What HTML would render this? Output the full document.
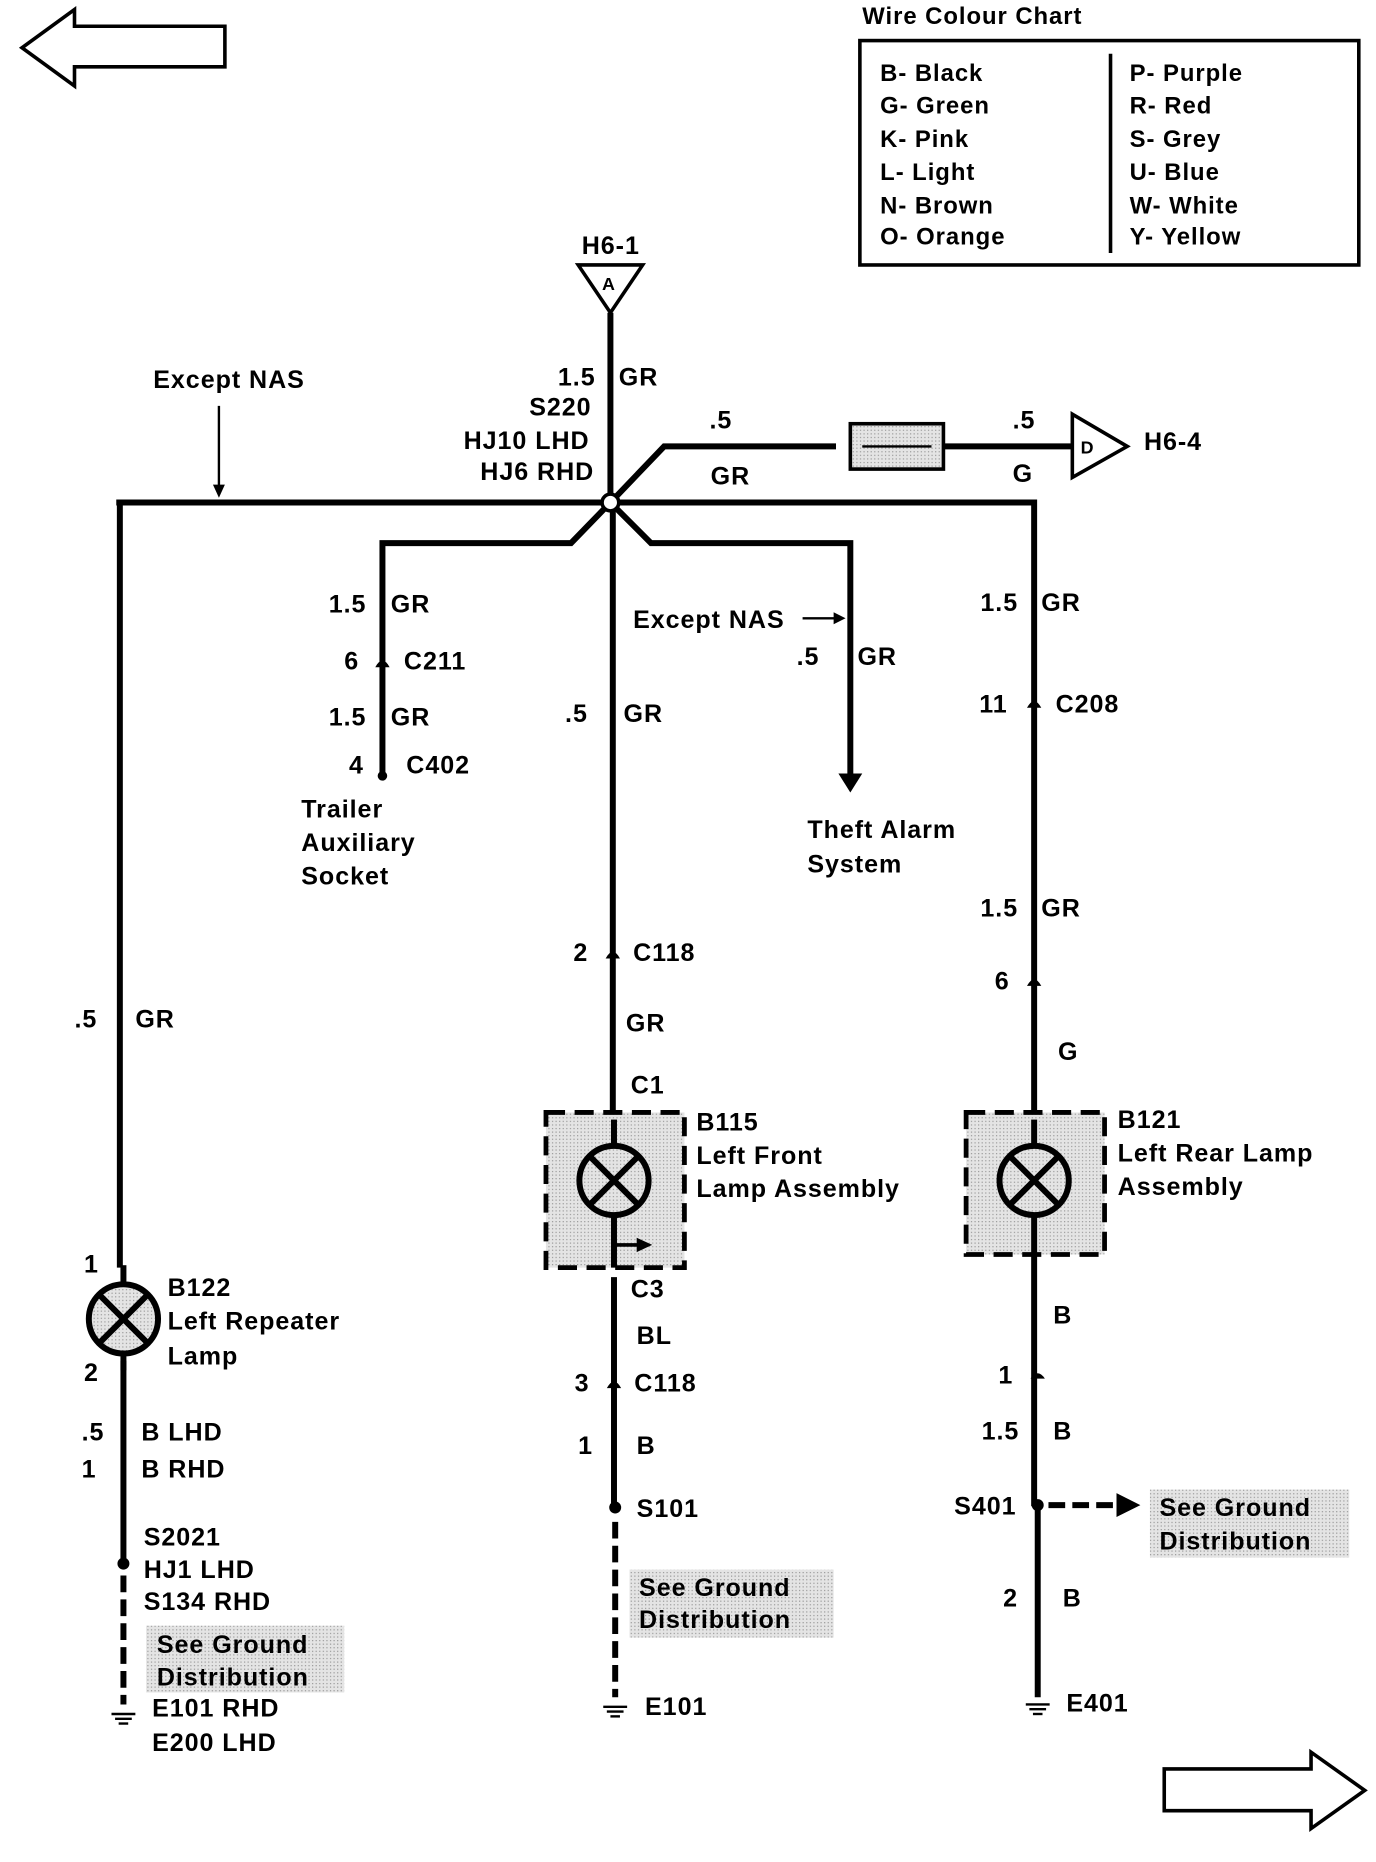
<!DOCTYPE html>
<html><head><meta charset="utf-8"><style>
html,body{margin:0;padding:0;background:#fff;}
svg{display:block;}
text{font-family:"Liberation Sans",sans-serif;font-weight:bold;font-size:21px;letter-spacing:0.8px;fill:#000;}
.ch{font-size:20px;}
</style></head><body>
<svg width="1376" height="1862" viewBox="0 0 1152 1560" xmlns="http://www.w3.org/2000/svg">
<defs>
<pattern id="dot" width="3" height="3" patternUnits="userSpaceOnUse"><rect width="3" height="3" fill="#e4e4e4"/><rect width="1" height="1" fill="#999"/></pattern>
</defs>
<path d="M188,22 L62,22 L62,8 L18,40 L62,72 L62,56 L188,56 Z" fill="none" stroke="#000" stroke-width="3"/>
<path d="M975,1482 L1098,1482 L1098,1468 L1143,1500 L1098,1532 L1098,1517 L975,1517 Z" fill="none" stroke="#000" stroke-width="3"/>
<text x="722" y="20" class="ch">Wire Colour Chart</text>
<rect x="720" y="34" width="418" height="188" fill="none" stroke="#000" stroke-width="3"/>
<line x1="930" y1="45" x2="930" y2="212" stroke="#000" stroke-width="3"/>
<g class="ch">
<text class="ch" x="737" y="68">B- Black</text><text class="ch" x="737" y="95">G- Green</text><text class="ch" x="737" y="123">K- Pink</text>
<text class="ch" x="737" y="151">L- Light</text><text class="ch" x="737" y="179">N- Brown</text><text class="ch" x="737" y="205">O- Orange</text>
<text class="ch" x="946" y="68">P- Purple</text><text class="ch" x="946" y="95">R- Red</text><text class="ch" x="946" y="123">S- Grey</text>
<text class="ch" x="946" y="151">U- Blue</text><text class="ch" x="946" y="179">W- White</text><text class="ch" x="946" y="205">Y- Yellow</text>
</g>
<g stroke="#000" stroke-width="5" fill="none">
<line x1="511" y1="262" x2="511" y2="421"/>
<polyline points="97,421 511,421 866,421 866,932"/>
<line x1="100" y1="419" x2="100" y2="1062"/>
<polyline points="511,421 556,374 700,374"/>
<line x1="790" y1="374" x2="898" y2="374"/>
<polyline points="511,421 478,455 320,455 320,650"/>
<polyline points="511,421 545,455 712,455 712,650"/>
<line x1="513" y1="421" x2="513" y2="932"/>
<line x1="514" y1="1070" x2="514" y2="1262"/>
<line x1="866" y1="1050" x2="866" y2="1262"/>
<line x1="869" y1="1262" x2="869" y2="1422"/>
<line x1="103" y1="1140" x2="103" y2="1310"/>
</g>
<g stroke="#000" stroke-width="5" stroke-dasharray="14,6">
<line x1="515" y1="1275" x2="515" y2="1422"/>
<line x1="103" y1="1320" x2="103" y2="1428"/>
<line x1="878" y1="1261" x2="935" y2="1261"/>
</g>
<polygon points="935,1251 955,1261 935,1271" fill="#000"/>
<polygon points="484,222 538,222 511,262" fill="#fff" stroke="#000" stroke-width="3"/>
<text x="504" y="243" style="font-size:15px;letter-spacing:0">A</text>
<text x="487" y="213">H6-1</text>
<polygon points="898,347 944,374 898,400" fill="#fff" stroke="#000" stroke-width="3"/>
<text x="905" y="380" style="font-size:15px;letter-spacing:0">D</text>
<text x="958" y="377">H6-4</text>
<rect x="712" y="355" width="78" height="38" fill="url(#dot)" stroke="#000" stroke-width="3"/>
<line x1="722" y1="374" x2="780" y2="374" stroke="#000" stroke-width="2"/>
<circle cx="511" cy="421" r="7" fill="#fff" stroke="#000" stroke-width="3"/>
<line x1="183" y1="340" x2="183" y2="408" stroke="#000" stroke-width="2"/>
<polygon points="178,406 188,406 183,417" fill="#000"/>
<line x1="672" y1="518" x2="700" y2="518" stroke="#000" stroke-width="2"/>
<polygon points="698,513 708,518 698,523" fill="#000"/>
<polygon points="702,648 722,648 712,664" fill="#000"/>
<g fill="#000">
<path d="M314,559 Q320,548 326,559 Z"/><path d="M507,803 Q513,792 519,803 Z"/><path d="M860,593 Q866,582 872,593 Z"/>
<path d="M860,826 Q866,815 872,826 Z"/><path d="M508,1163 Q514,1152 520,1163 Z"/><path d="M863,1155 Q869,1146 875,1155 Z"/>
<circle cx="320" cy="650" r="4"/>
<circle cx="515" cy="1263" r="5"/><circle cx="869" cy="1261" r="5"/><circle cx="103" cy="1310" r="5"/>
</g>
<rect x="457" y="932" width="116" height="130" fill="url(#dot)" stroke="#000" stroke-width="4" stroke-dasharray="16,8"/>
<rect x="809" y="932" width="116" height="119" fill="url(#dot)" stroke="#000" stroke-width="4" stroke-dasharray="16,8"/>
<g stroke="#000" stroke-width="5" fill="none">
<circle cx="514" cy="989" r="29"/><line x1="494" y1="969" x2="534" y2="1009"/><line x1="534" y1="969" x2="494" y2="1009"/>
<circle cx="866" cy="989" r="29"/><line x1="846" y1="969" x2="886" y2="1009"/><line x1="886" y1="969" x2="846" y2="1009"/>
<circle cx="103" cy="1105" r="29" fill="url(#dot)"/><line x1="83" y1="1085" x2="123" y2="1125"/><line x1="123" y1="1085" x2="83" y2="1125"/>
<line x1="514" y1="938" x2="514" y2="960"/><line x1="514" y1="1018" x2="514" y2="1062"/>
<line x1="866" y1="938" x2="866" y2="960"/><line x1="866" y1="1018" x2="866" y2="1052"/>
<line x1="103" y1="1060" x2="103" y2="1076"/><line x1="103" y1="1134" x2="103" y2="1148"/>
<line x1="514" y1="1043" x2="535" y2="1043" stroke-width="3"/>
</g>
<polygon points="533,1037 546,1043 533,1049" fill="#000"/>
<rect x="527" y="1315" width="171" height="57" fill="url(#dot)"/>
<rect x="963" y="1248" width="167" height="57" fill="url(#dot)"/>
<rect x="122" y="1362" width="166" height="56" fill="url(#dot)"/>
<g stroke="#000" stroke-width="2">
<line x1="505" y1="1430" x2="525" y2="1430"/><line x1="508" y1="1434" x2="522" y2="1434"/><line x1="511" y1="1438" x2="519" y2="1438"/>
<line x1="859" y1="1428" x2="879" y2="1428"/><line x1="862" y1="1432" x2="876" y2="1432"/><line x1="865" y1="1436" x2="873" y2="1436"/>
<line x1="93" y1="1436" x2="113" y2="1436"/><line x1="96" y1="1440" x2="110" y2="1440"/><line x1="99" y1="1444" x2="107" y2="1444"/>
</g>
<text x="128" y="325">Except NAS</text>
<text x="467" y="323">1.5</text><text x="518" y="323">GR</text>
<text x="443" y="348">S220</text><text x="388" y="376">HJ10 LHD</text><text x="402" y="402">HJ6 RHD</text>
<text x="594" y="359">.5</text><text x="848" y="359">.5</text>
<text x="595" y="406">GR</text><text x="848" y="404">G</text>
<text x="275" y="513">1.5</text><text x="327" y="513">GR</text>
<text x="288" y="561">6</text><text x="338" y="561">C211</text>
<text x="275" y="608">1.5</text><text x="327" y="608">GR</text>
<text x="292" y="648">4</text><text x="340" y="648">C402</text>
<text x="252" y="685">Trailer</text><text x="252" y="713">Auxiliary</text><text x="252" y="741">Socket</text>
<text x="530" y="526">Except NAS</text>
<text x="667" y="557">.5</text><text x="718" y="557">GR</text>
<text x="676" y="702">Theft Alarm</text><text x="676" y="731">System</text>
<text x="473" y="605">.5</text><text x="522" y="605">GR</text>
<text x="480" y="805">2</text><text x="530" y="805">C118</text>
<text x="524" y="864">GR</text><text x="528" y="916">C1</text>
<text x="583" y="947">B115</text><text x="583" y="975">Left Front</text><text x="583" y="1003">Lamp Assembly</text>
<text x="528" y="1087">C3</text><text x="533" y="1126">BL</text>
<text x="481" y="1166">3</text><text x="531" y="1166">C118</text>
<text x="484" y="1218">1</text><text x="533" y="1218">B</text>
<text x="533" y="1271">S101</text>
<text x="535" y="1337">See Ground</text><text x="535" y="1364">Distribution</text>
<text x="540" y="1437">E101</text>
<text x="821" y="512">1.5</text><text x="872" y="512">GR</text>
<text x="820" y="597">11</text><text x="884" y="597">C208</text>
<text x="821" y="768">1.5</text><text x="872" y="768">GR</text>
<text x="833" y="829">6</text><text x="886" y="888">G</text>
<text x="936" y="945">B121</text><text x="936" y="973">Left Rear Lamp</text><text x="936" y="1001">Assembly</text>
<text x="882" y="1109">B</text><text x="836" y="1159">1</text>
<text x="822" y="1206">1.5</text><text x="882" y="1206">B</text>
<text x="799" y="1269">S401</text>
<text x="971" y="1270">See Ground</text><text x="971" y="1298">Distribution</text>
<text x="840" y="1346">2</text><text x="890" y="1346">B</text>
<text x="893" y="1434">E401</text>
<text x="62" y="861">.5</text><text x="113" y="861">GR</text>
<text x="70" y="1066">1</text><text x="70" y="1157">2</text>
<text x="140" y="1086">B122</text><text x="140" y="1114">Left Repeater</text><text x="140" y="1143">Lamp</text>
<text x="68" y="1207">.5</text><text x="118" y="1207">B  LHD</text>
<text x="68" y="1238">1</text><text x="118" y="1238">B  RHD</text>
<text x="120" y="1295">S2021</text><text x="120" y="1322">HJ1 LHD</text><text x="120" y="1349">S134 RHD</text>
<text x="131" y="1385">See Ground</text><text x="131" y="1412">Distribution</text>
<text x="127" y="1438">E101 RHD</text><text x="127" y="1467">E200 LHD</text>
</svg>
</body></html>
